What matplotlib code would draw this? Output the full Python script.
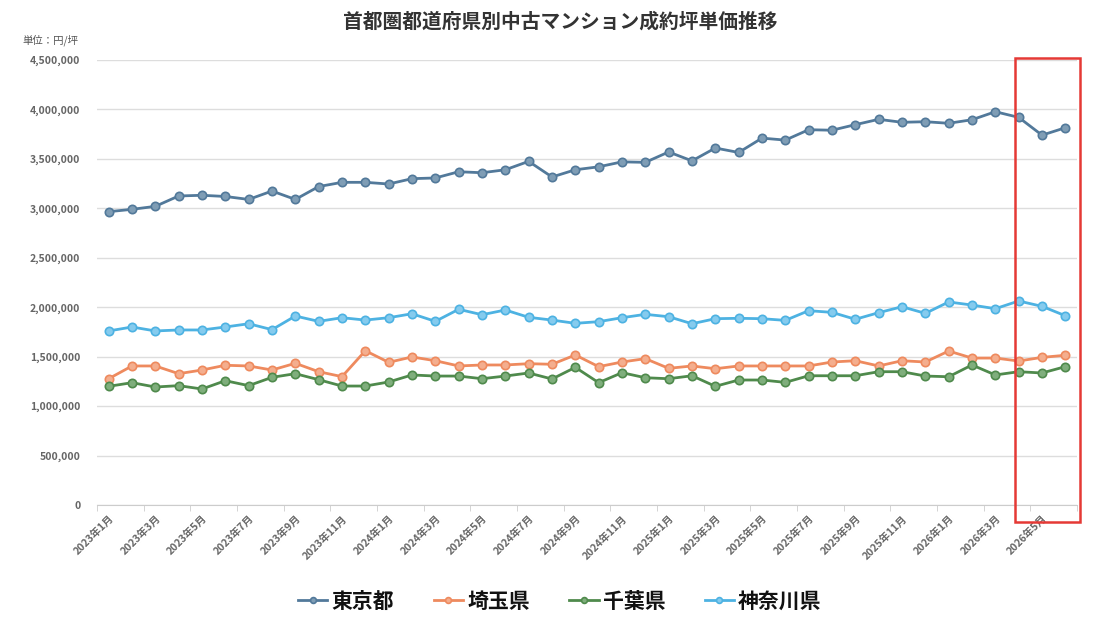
import matplotlib
matplotlib.use("Agg")
import matplotlib.pyplot as plt
import matplotlib.patches as mpatches
import numpy as np

plt.rcParams['font.family'] = ['Noto Sans CJK JP', 'DejaVu Sans']

months = [f"{y}年{m}月" for y in (2023, 2024, 2025, 2026) for m in range(1, 13)][:42]

tokyo = [2966000, 2990000, 3020000, 3125000, 3132000, 3120000, 3090000, 3175000, 3090000, 3220000,
         3263000, 3263000, 3246000, 3300000, 3307000, 3370000, 3360000, 3390000, 3475000, 3317000,
         3390000, 3420000, 3470000, 3465000, 3570000, 3480000, 3610000, 3565000, 3710000, 3690000,
         3795000, 3790000, 3846000, 3900000, 3870000, 3876000, 3860000, 3896000, 3977000, 3920000,
         3740000, 3815000]
saitama = [1277000, 1406000, 1406000, 1328000, 1365000, 1413000, 1406000, 1365000, 1433000, 1348000,
           1298000, 1560000, 1443000, 1497000, 1459000, 1406000, 1416000, 1416000, 1429000, 1423000,
           1517000, 1399000, 1446000, 1480000, 1382000, 1406000, 1378000, 1406000, 1406000, 1406000,
           1406000, 1446000, 1459000, 1406000, 1459000, 1446000, 1557000, 1486000, 1486000, 1456000,
           1493000, 1514000]
chiba = [1200000, 1237000, 1193000, 1207000, 1173000, 1257000, 1207000, 1291000, 1328000, 1267000,
         1203000, 1203000, 1244000, 1315000, 1304000, 1304000, 1277000, 1304000, 1335000, 1274000,
         1392000, 1237000, 1338000, 1287000, 1277000, 1307000, 1200000, 1264000, 1264000, 1240000,
         1307000, 1307000, 1307000, 1348000, 1348000, 1304000, 1297000, 1416000, 1315000, 1348000,
         1335000, 1399000]
kanagawa = [1760000, 1800000, 1760000, 1770000, 1770000, 1800000, 1833000, 1773000, 1911000, 1857000,
            1894000, 1870000, 1894000, 1934000, 1857000, 1979000, 1924000, 1972000, 1898000, 1870000,
            1837000, 1854000, 1894000, 1928000, 1904000, 1833000, 1884000, 1888000, 1884000, 1867000,
            1965000, 1948000, 1878000, 1945000, 2005000, 1938000, 2053000, 2022000, 1985000, 2063000,
            2009000, 1914000]

series = [("東京都", tokyo, "#52799a", "#7f9db5"),
          ("埼玉県", saitama, "#ee8a5e", "#f4ae8e"),
          ("千葉県", chiba, "#4f8a4c", "#7fae7c"),
          ("神奈川県", kanagawa, "#4db2e2", "#85cbee")]

fig = plt.figure(figsize=(11.2, 6.3), dpi=100)
ax = fig.add_axes([97/1120, 1-505/630, (1077-97)/1120, (505-60)/630])

x = np.arange(len(months))
for name, vals, col, fcol in series:
    ax.plot(x, vals, color=col, lw=2, marker='o', ms=6, mfc=fcol, mec=col, mew=1.2, label=name, zorder=3)

ax.set_xlim(-0.5, len(months) - 0.5)
ax.set_ylim(0, 4500000)
yt = np.arange(0, 4500001, 500000)
ax.set_yticks(yt)
ax.set_yticklabels([f"{v:,}" for v in yt], fontsize=7.5, color='#666666', fontweight='bold')
ax.tick_params(axis='y', length=0, pad=12)
ax.grid(axis='y', color='#dddddd', lw=1)
ax.set_axisbelow(True)

ax.set_xticks(x[::2])
ax.set_xticklabels(months[::2], rotation=45, ha='right', rotation_mode='anchor',
                   fontsize=7.5, color='#666666', fontweight='bold')
ax.tick_params(axis='x', which='major', length=0, pad=6)
ax.set_xticks(np.arange(-0.5, len(months), 2), minor=True)
ax.tick_params(axis='x', which='minor', length=4, color='#cccccc')

for s in ['top', 'right', 'left']:
    ax.spines[s].set_visible(False)
ax.spines['bottom'].set_color('#cccccc')

fig.text(0.5, 1-22/630, "首都圏都道府県別中古マンション成約坪単価推移", ha='center', va='center',
         fontsize=14.2, fontweight='bold', color='#333333')
fig.text(22/1120, 1-40/630, "単位：円/坪", ha='left', va='center', fontsize=7.5, color='#555555')

# highlight box
rect = mpatches.Rectangle((1015/1120, 1-522/630), 65/1120, (522-58)/630, transform=fig.transFigure,
                          fill=False, edgecolor='#e53935', lw=1.8, zorder=10)
fig.patches.append(rect)

leg = fig.legend(loc='center', bbox_to_anchor=(0.5, 1-601/630), ncol=4, frameon=False,
                 prop={'size': 15, 'weight': 'bold'}, handlelength=1.4, columnspacing=1.9,
                 handletextpad=0.2, markerscale=0.7)
for t in leg.get_texts():
    t.set_color('#111111')

fig.savefig("out.png", dpi=100)
